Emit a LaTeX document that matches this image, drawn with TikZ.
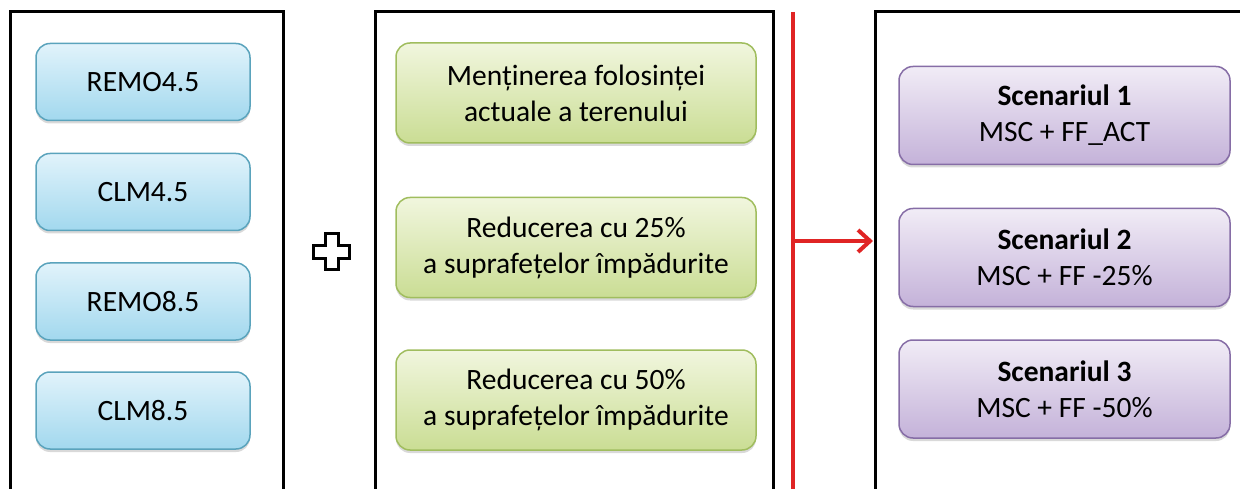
\documentclass[tikz,border=0pt]{standalone}
\usepackage{fontspec}
\setmainfont{Carlito}
\usepackage{tikz}
\usetikzlibrary{arrows.meta, positioning, shadows}

\definecolor{blueTop}{HTML}{E1F3FB}
\definecolor{blueBot}{HTML}{A2D8EE}
\definecolor{blueLine}{HTML}{5AA3BC}
\definecolor{greenTop}{HTML}{F1F6DE}
\definecolor{greenBot}{HTML}{CADD94}
\definecolor{greenLine}{HTML}{A0BD5E}
\definecolor{violetTop}{HTML}{F1ECF6}
\definecolor{violetBot}{HTML}{C4B2D9}
\definecolor{violetLine}{HTML}{866DA6}
\definecolor{splitRed}{HTML}{E02424}

\begin{document}
\begin{tikzpicture}[x=1pt,y=-1pt,
    every node/.style={font=\fontsize{29.5}{36}\selectfont, align=center, inner sep=0pt},
    modelbox/.style={rounded corners=14pt, line width=1.5pt,
        drop shadow={opacity=0.3, shadow xshift=0pt, shadow yshift=-3pt}},
    bluebox/.style={modelbox, draw=blueLine, top color=blueTop, bottom color=blueBot,
        minimum width=214pt, minimum height=77pt},
    greenbox/.style={modelbox, draw=greenLine, top color=greenTop, bottom color=greenBot,
        minimum width=360pt, minimum height=100pt},
    violetbox/.style={modelbox, draw=violetLine, top color=violetTop, bottom color=violetBot,
        minimum width=331pt, minimum height=98pt},
    frame/.style={line width=3pt, black},
    redline/.style={line width=3.5pt, splitRed}]
    \useasboundingbox (0,0) rectangle (1240,489);
    \clip (0,0) rectangle (1240,489);
    % rame deschise jos
    \draw[frame] (10,489) -- (10,12) -- (283,12) -- (283,489);
    \draw[frame] (375,489) -- (375,12) -- (773,12) -- (773,489);
    \draw[frame] (875,489) -- (875,12) -- (1250,12);
    % modele climatice
    \foreach \n/\y/\t in {remoA/82/REMO4.5, clmA/192/CLM4.5, remoB/301.5/REMO8.5, clmB/410.5/CLM8.5} {
        \node[bluebox] (\n) at (143,\y) {\t};
    }
    % semnul plus
    \draw[line width=3pt, line join=miter] (331.5,252) ++(-6.5,-18) -- ++(13,0) -- ++(0,11.5) -- ++(11.5,0)
        -- ++(0,13) -- ++(-11.5,0) -- ++(0,11.5) -- ++(-13,0) -- ++(0,-11.5) -- ++(-11.5,0)
        -- ++(0,-13) -- ++(11.5,0) -- cycle;
    % folosinta terenului
    \foreach \n/\y/\t in {keep/93/{Menținerea folosinței\\actuale a terenului},
                          cutA/247.5/{Reducerea cu 25\%\\a suprafețelor împădurite},
                          cutB/400/{Reducerea cu 50\%\\a suprafețelor împădurite}} {
        \node[greenbox] (\n) at (576,\y) {\t};
    }
    % linia rosie si sageata
    \coordinate (redTop) at (793,12);
    \coordinate (redBot) at (793,489);
    \coordinate (split) at (793,241);
    \coordinate (target) at (873,241);
    \draw[redline] (redTop) -- (redBot);
    \draw[redline, line width=4pt, -{Straight Barb[length=12pt, width=22pt]}] (split) -- (target);
    % scenarii
    \foreach \n/\y/\k/\t in {scenA/115.5/1/FF\_ACT, scenB/257.5/2/FF -25\%, scenC/389/3/FF -50\%} {
        \node[violetbox] (\n) at (1064.5,\y) {\textbf{Scenariul \k}\\MSC + \t};
    }
\end{tikzpicture}
\end{document}
